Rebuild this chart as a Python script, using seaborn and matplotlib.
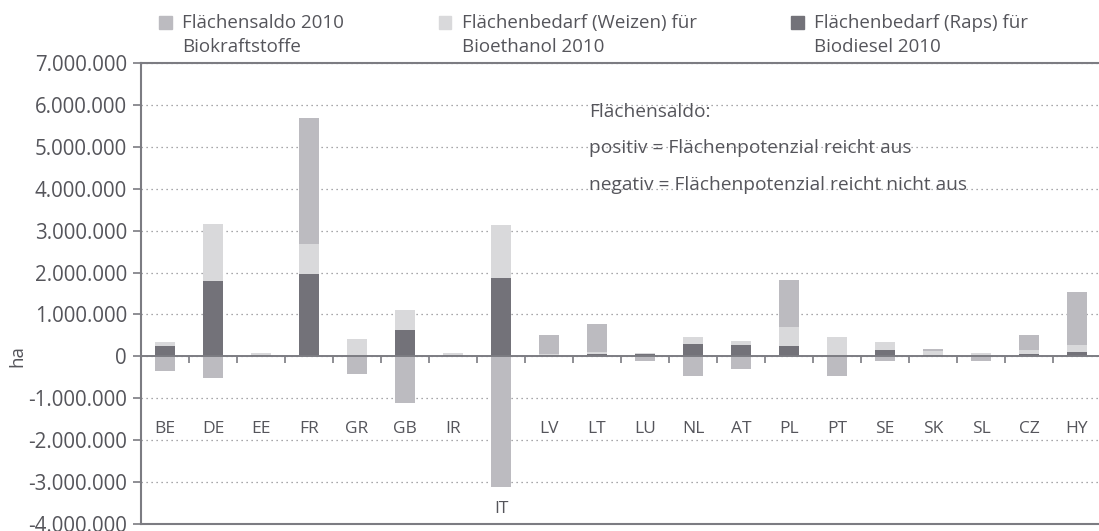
import numpy as np
import pandas as pd
import matplotlib.pyplot as plt
import seaborn as sns
from matplotlib.ticker import FuncFormatter
from matplotlib.patches import Patch

# --- data (Mio. ha) ---
countries = ["BE", "DE", "EE", "FR", "GR", "GB", "IR", "IT", "LV", "LT",
             "LU", "NL", "AT", "PL", "PT", "SE", "SK", "SL", "CZ", "HY"]
raps = [0.25, 1.81, 0.04, 1.97, 0.00, 0.63, 0.04, 1.87, 0.03, 0.05,
        0.05, 0.30, 0.28, 0.25, 0.00, 0.16, 0.04, 0.02, 0.06, 0.11]
weizen = [0.10, 1.35, 0.05, 0.71, 0.42, 0.48, 0.05, 1.26, 0.03, 0.05,
          0.04, 0.17, 0.09, 0.46, 0.47, 0.19, 0.09, 0.07, 0.10, 0.17]
saldo = [-0.36, -0.52, 0.00, 3.00, -0.43, -1.12, 0.00, -3.12, 0.46, 0.68,
         -0.10, -0.48, -0.29, 1.12, -0.48, -0.10, 0.05, -0.10, 0.36, 1.26]
y_ticks = list(range(-4, 8))  # Mio. ha

legend_labels = ["Flächensaldo 2010\nBiokraftstoffe",
                 "Flächenbedarf (Weizen) für\nBioethanol 2010",
                 "Flächenbedarf (Raps) für\nBiodiesel 2010"]
note_lines = ["Flächensaldo:",
              "positiv = Flächenpotenzial reicht aus",
              "negativ = Flächenpotenzial reicht nicht aus"]

C_SALDO = "#bcbbc0"
C_WEIZEN = "#d9d9db"
C_RAPS = "#737279"
C_TEXT = "#55555b"
C_AXIS = "#7c7c82"

df = pd.DataFrame({"land": countries,
                   "raps": np.array(raps) * 1e6,
                   "weizen": np.array(weizen) * 1e6,
                   "saldo": np.array(saldo) * 1e6})
df["weizen_top"] = df["raps"] + df["weizen"]
df["saldo_top"] = df["weizen_top"] + df["saldo"].clip(lower=0)
df["saldo_neg"] = df["saldo"].clip(upper=0)

sns.set_style("white")
plt.rcParams["font.family"] = ["Open Sans", "DejaVu Sans"]

fig = plt.figure(figsize=(10.99, 5.31), dpi=100)
ax = fig.add_axes([141 / 1099, 1 - 524 / 531, 960 / 1099, (524 - 63) / 531])

# stacked bars drawn as overlapping cumulative totals
bar_kw = dict(data=df, x="land", order=countries, width=0.42, saturation=1,
              errorbar=None, linewidth=0, ax=ax, zorder=2)
sns.barplot(y="saldo_top", color=C_SALDO, **bar_kw)
sns.barplot(y="weizen_top", color=C_WEIZEN, **bar_kw)
sns.barplot(y="raps", color=C_RAPS, **bar_kw)
sns.barplot(y="saldo_neg", color=C_SALDO, **bar_kw)

ax.set_xlim(-0.5, len(countries) - 0.5)
ax.set_ylim(-4e6, 7e6)
ax.set_xticks([])
ax.set_xlabel("")

# y axis
ax.set_yticks(np.array(y_ticks) * 1e6)
ax.yaxis.set_major_formatter(FuncFormatter(lambda v, p: f"{int(round(v)):,}".replace(",", ".")))
ax.tick_params(axis="y", direction="out", length=6, width=1.2, color=C_AXIS,
               labelsize=14.8, labelcolor=C_TEXT, pad=4, left=True)
ax.set_ylabel("ha", fontsize=13.5, color=C_TEXT)
ax.yaxis.set_label_coords(-0.119, 4 / 11)

ax.grid(axis="y", linestyle=(0, (1, 3)), color="#8a8a8e", linewidth=0.9)
ax.set_axisbelow(True)

for side in ["left", "top", "bottom"]:
    ax.spines[side].set_color(C_AXIS)
    ax.spines[side].set_linewidth(1.5)
ax.spines["right"].set_visible(False)

# zero line with category separators
ax.axhline(0, color=C_AXIS, linewidth=1.4, zorder=3)
ax.vlines(np.arange(len(countries) - 1) + 0.5, -0.15e6, 0, color=C_AXIS, linewidth=1.2, zorder=3)

# category labels under the bars
for i, land in enumerate(countries):
    y = min(-1.74e6, df["saldo_neg"][i] - 0.52e6)
    ax.text(i, y, land, ha="center", va="center", fontsize=12.5, color=C_TEXT)

# note
for y, line in zip([5.84e6, 4.97e6, 4.1e6], note_lines):
    ax.text(8.83, y, line, ha="left", va="center", fontsize=13.8, color=C_TEXT)

handles = [Patch(color=c, label=l) for c, l in zip([C_SALDO, C_WEIZEN, C_RAPS], legend_labels)]
leg = fig.legend(handles=handles, loc="upper left", bbox_to_anchor=(159 / 1099, 1 - 14 / 531),
                 ncol=3, frameon=False, fontsize=13.5, handlelength=0.68, handleheight=0.68,
                 handletextpad=0.55, columnspacing=5.05, borderpad=0, borderaxespad=0,
                 labelcolor=C_TEXT)
for t in leg.get_texts():
    t.set_linespacing(1.44)
# put the squares next to the first label line
for h in leg.legend_handles:
    h.set_y(h.get_y() + 9.4)

fig.savefig("out.png", dpi=100)
